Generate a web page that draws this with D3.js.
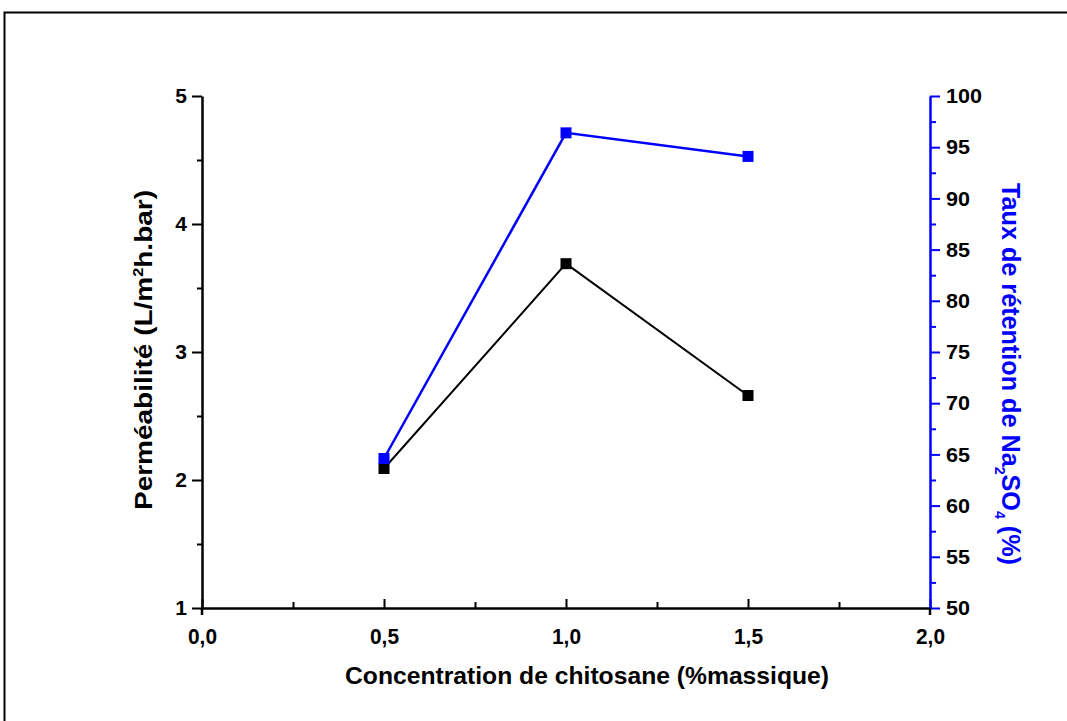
<!DOCTYPE html>
<head>
  <meta charset="utf-8">
  <script src="https://d3js.org/d3.v7.min.js"></script>
  <style>
    body { margin:0; background:#fff; }
    text { font-family: "Liberation Sans", Arial, sans-serif; font-weight: bold; }
  </style>
</head>
<body>
<script>
// chart values
var concentration = [0.5, 1.0, 1.5];
var permeabilite = [2.09, 3.69, 2.66];
var retention = [64.6, 96.4, 94.1];
var xTicks = [0, 0.5, 1.0, 1.5, 2.0];
var leftTicks = [1, 2, 3, 4, 5];
var rightTicks = [50, 55, 60, 65, 70, 75, 80, 85, 90, 95, 100];

var W = 1067, H = 721;
var margin = {top: 96, right: 137, bottom: 113, left: 202};
var width = W - margin.left - margin.right,
    height = H - margin.top - margin.bottom;

var svg = d3.select("body").append("svg")
    .attr("width", W)
    .attr("height", H);

// outer frame
svg.append("rect")
    .attr("x", 4.5).attr("y", 12.5)
    .attr("width", W).attr("height", H)
    .attr("fill", "none").attr("stroke", "#000").attr("stroke-width", 2);

var g = svg.append("g").attr("transform", "translate(" + margin.left + "," + margin.top + ")");

var x = d3.scaleLinear().domain([0, 2]).range([0, width]);
var yL = d3.scaleLinear().domain([1, 5]).range([height, 0]);
var yR = d3.scaleLinear().domain([50, 100]).range([height, 0]);

var fmt = function(d){ return d3.format(".1f")(d).replace(".", ","); };

// minor ticks
g.append("g")
    .attr("transform", "translate(0," + height + ")")
    .call(d3.axisTop(x).tickValues(d3.range(0.25, 2, 0.5)).tickSize(6).tickFormat(""))
    .call(function(a){ a.select(".domain").remove(); a.selectAll("line").attr("stroke-width", 2); });
g.append("g")
    .call(d3.axisLeft(yL).tickValues(d3.range(1.5, 5, 1)).tickSize(5).tickFormat(""))
    .call(function(a){ a.select(".domain").remove(); a.selectAll("line").attr("stroke-width", 2); });
g.append("g")
    .attr("transform", "translate(" + width + ",0)")
    .call(d3.axisRight(yR).tickValues(d3.range(52.5, 100, 5)).tickSize(6).tickFormat(""))
    .call(function(a){ a.select(".domain").remove(); a.selectAll("line").attr("stroke", "#0000ff").attr("stroke-width", 2); });

// x axis (ticks inward)
var xa = g.append("g")
    .attr("transform", "translate(0," + height + ")")
    .call(d3.axisTop(x).tickValues(xTicks).tickSize(9).tickSizeOuter(0).tickFormat(fmt));
xa.select(".domain").attr("stroke-width", 2.5);
xa.selectAll("line").attr("stroke-width", 2);
xa.selectAll("text").attr("y", 36).attr("dy", 0).style("font-size", "22px")
    .attr("textLength", 29).attr("lengthAdjust", "spacingAndGlyphs");

// left axis
var la = g.append("g")
    .call(d3.axisLeft(yL).tickValues(leftTicks).tickSize(10).tickSizeOuter(0).tickPadding(5).tickFormat(d3.format("d")));
la.select(".domain").attr("stroke-width", 2.5);
la.selectAll("line").attr("stroke-width", 2);
la.selectAll("text").style("font-size", "21px").attr("fill", "#000");

// right axis
var ra = g.append("g")
    .attr("transform", "translate(" + width + ",0)")
    .call(d3.axisRight(yR).tickValues(rightTicks).tickSize(10).tickSizeOuter(0).tickPadding(6).tickFormat(d3.format("d")));
ra.select(".domain").attr("stroke", "#0000ff").attr("stroke-width", 2.5);
ra.selectAll("line").attr("stroke", "#0000ff").attr("stroke-width", 2);
ra.selectAll("text").style("font-size", "21px").attr("fill", "#000")
    .attr("textLength", function(d){ return d >= 100 ? 36 : 24; }).attr("lengthAdjust", "spacingAndGlyphs");

// small extensions of the vertical axes below the x axis
g.append("line").attr("x1", x(0)).attr("x2", x(0)).attr("y1", height).attr("y2", height + 7)
    .attr("stroke", "#000").attr("stroke-width", 2.5);
g.append("line").attr("x1", x(2)).attr("x2", x(2)).attr("y1", height).attr("y2", height + 7)
    .attr("stroke", "#000").attr("stroke-width", 2.5);

// series
var dataL = concentration.map(function(c, i){ return [c, permeabilite[i]]; });
var dataR = concentration.map(function(c, i){ return [c, retention[i]]; });

g.append("path").datum(dataL)
    .attr("fill", "none").attr("stroke", "#000").attr("stroke-width", 2)
    .attr("d", d3.line().x(function(d){ return x(d[0]); }).y(function(d){ return yL(d[1]); }));
g.append("path").datum(dataR)
    .attr("fill", "none").attr("stroke", "#0000ff").attr("stroke-width", 2.5)
    .attr("d", d3.line().x(function(d){ return x(d[0]); }).y(function(d){ return yR(d[1]); }));

var s = 11;
g.selectAll(".mL").data(dataL).enter().append("rect")
    .attr("x", function(d){ return x(d[0]) - s/2; })
    .attr("y", function(d){ return yL(d[1]) - s/2; })
    .attr("width", s).attr("height", s).attr("fill", "#000");
g.selectAll(".mR").data(dataR).enter().append("rect")
    .attr("x", function(d){ return x(d[0]) - s/2; })
    .attr("y", function(d){ return yR(d[1]) - s/2; })
    .attr("width", s).attr("height", s).attr("fill", "#0000ff");

// axis titles
svg.append("text")
    .attr("x", 587).attr("y", 684)
    .attr("text-anchor", "middle").style("font-size", "24px")
    .attr("textLength", 484).attr("lengthAdjust", "spacingAndGlyphs")
    .text("Concentration de chitosane (%massique)");

var lt = svg.append("text")
    .attr("transform", "translate(152,350) rotate(-90)")
    .attr("text-anchor", "middle").style("font-size", "24px")
    .attr("textLength", 320).attr("lengthAdjust", "spacingAndGlyphs");
lt.append("tspan").text("Perméabilité (L/m");
lt.append("tspan").style("font-size", "14px").attr("dy", -9).text("2");
lt.append("tspan").attr("dy", 9).text("h.bar)");

var rt = svg.append("text")
    .attr("transform", "translate(1002,374) rotate(90)")
    .attr("text-anchor", "middle").style("font-size", "25px").attr("fill", "#0000ff")
    .attr("textLength", 382).attr("lengthAdjust", "spacingAndGlyphs");
rt.append("tspan").text("Taux de rétention de Na");
rt.append("tspan").style("font-size", "14px").attr("dy", 7).text("2");
rt.append("tspan").attr("dy", -7).text("SO");
rt.append("tspan").style("font-size", "14px").attr("dy", 7).text("4");
rt.append("tspan").attr("dy", -7).text(" (%)");
</script>
</body>
